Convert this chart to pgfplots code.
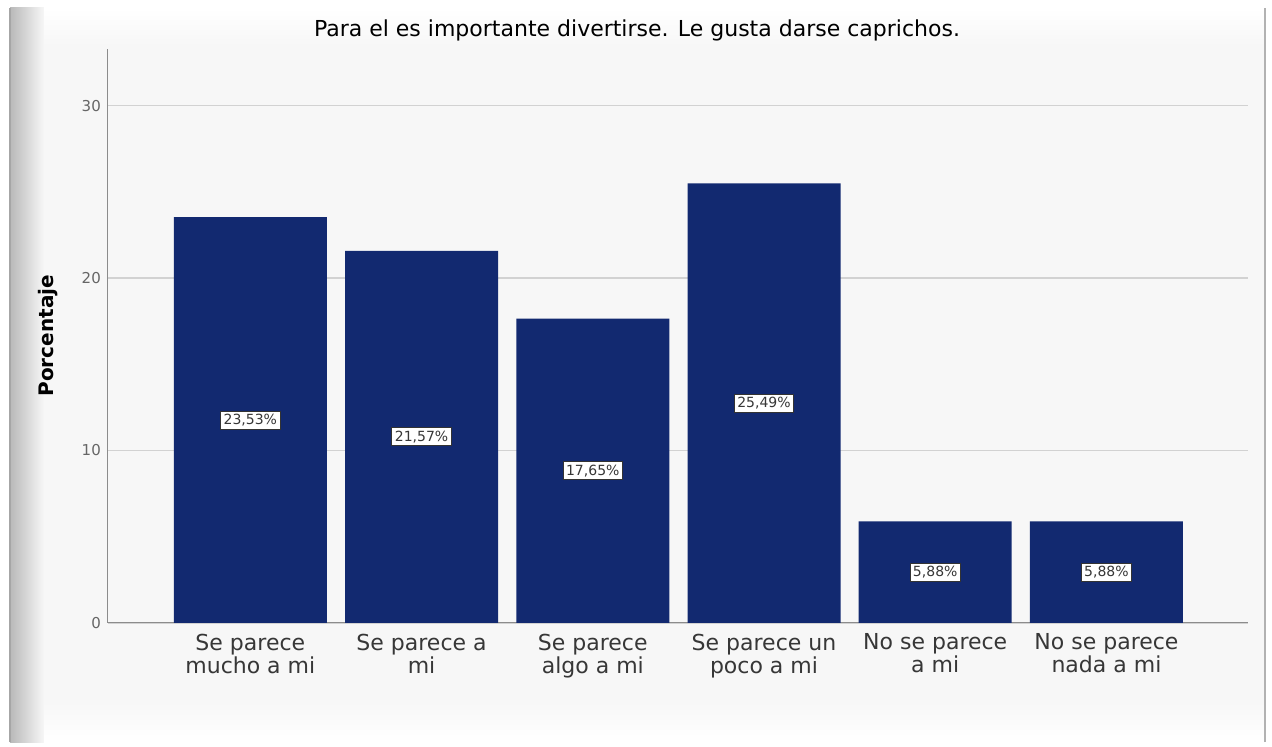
\documentclass[border=0pt]{standalone}
\usepackage{pgfplots}
\pgfplotsset{compat=1.18}
\usepackage{pgfplotstable}
\usepackage{fontspec}
\setmainfont{DejaVu Sans}

\definecolor{barblue}{RGB}{18,41,112}
\definecolor{panel}{RGB}{247,247,247}
\definecolor{gridc}{RGB}{210,210,210}
\definecolor{axc}{RGB}{140,140,140}
\definecolor{txt}{RGB}{55,55,55}

\pgfplotstableread{
x v lbl
0 23.53 23,53\%
1 21.57 21,57\%
2 17.65 17,65\%
3 25.49 25,49\%
4 5.88 5,88\%
5 5.88 5,88\%
}\datos

\begin{document}
\begin{tikzpicture}[x=1pt,y=1pt]
% marco de la captura
\fill[white] (0,0) rectangle (636,373);
\fill[panel] (5,2) rectangle (632,369);
\shade[left color=gray!55, right color=panel] (5,2) rectangle (22,369);
\shade[top color=panel, bottom color=white] (22,2) rectangle (632,22);
\shade[top color=white, bottom color=panel] (22,350) rectangle (632,369);
\draw[gray!70, line width=0.8pt] (5,2) -- (5,369);
\draw[gray!60, line width=0.6pt] (632.5,2) -- (632.5,369);

\begin{axis}[
  at={(63,71.5)}, anchor=south west,
  scale only axis, width=570pt, height=287pt,
  xmin=-0.832, xmax=5.826,
  ymin=0, ymax=33.3,
  axis lines*=left,
  axis line style={axc, line width=0.6pt},
  xtick={0,1,2,3,4,5},
  xticklabels={{Se parece\\mucho a mi},{Se parece a\\mi},{Se parece\\algo a mi},{Se parece un\\poco a mi},{No se parece\\a mi},{No se parece\\nada a mi}},
  xticklabel style={font=\fontsize{11}{11.5}\selectfont, align=center, text=txt, yshift=-2pt},
  ytick={0,10,20,30},
  yticklabel style={font=\fontsize{7.5}{9}\selectfont, text=gray!80!black},
  /pgf/number format/assume math mode=true,
  major tick length=2pt,
  xtick style={axc},
  ytick style={draw=none},
  ymajorgrids,
  grid style={gridc, line width=0.8pt},
  ylabel={Porcentaje},
  every axis y label/.style={at={(axis description cs:-0.0526,0.5)}, rotate=90, anchor=center, font=\bfseries\fontsize{10}{12}\selectfont},
]
\addplot[ybar, bar width=76.5pt, fill=barblue, draw=none, bar shift=0pt] table[x=x, y=v] {\datos};
\addplot[draw=none, mark=none, point meta=explicit symbolic,
  nodes near coords,
  every node near coord/.style={anchor=center, fill=white, draw=black!80, line width=0.4pt, inner sep=1.5pt, font=\fontsize{7}{8}\selectfont, text=txt}]
  table[x=x, y expr=\thisrow{v}/2, meta=lbl] {\datos};
\end{axis}

\node[font=\fontsize{11}{13}\selectfont, text=black] at (318.5,358) {Para el es importante divertirse. Le gusta darse caprichos.};
\useasboundingbox (0,0) rectangle (636,373);
\end{tikzpicture}
\end{document}
